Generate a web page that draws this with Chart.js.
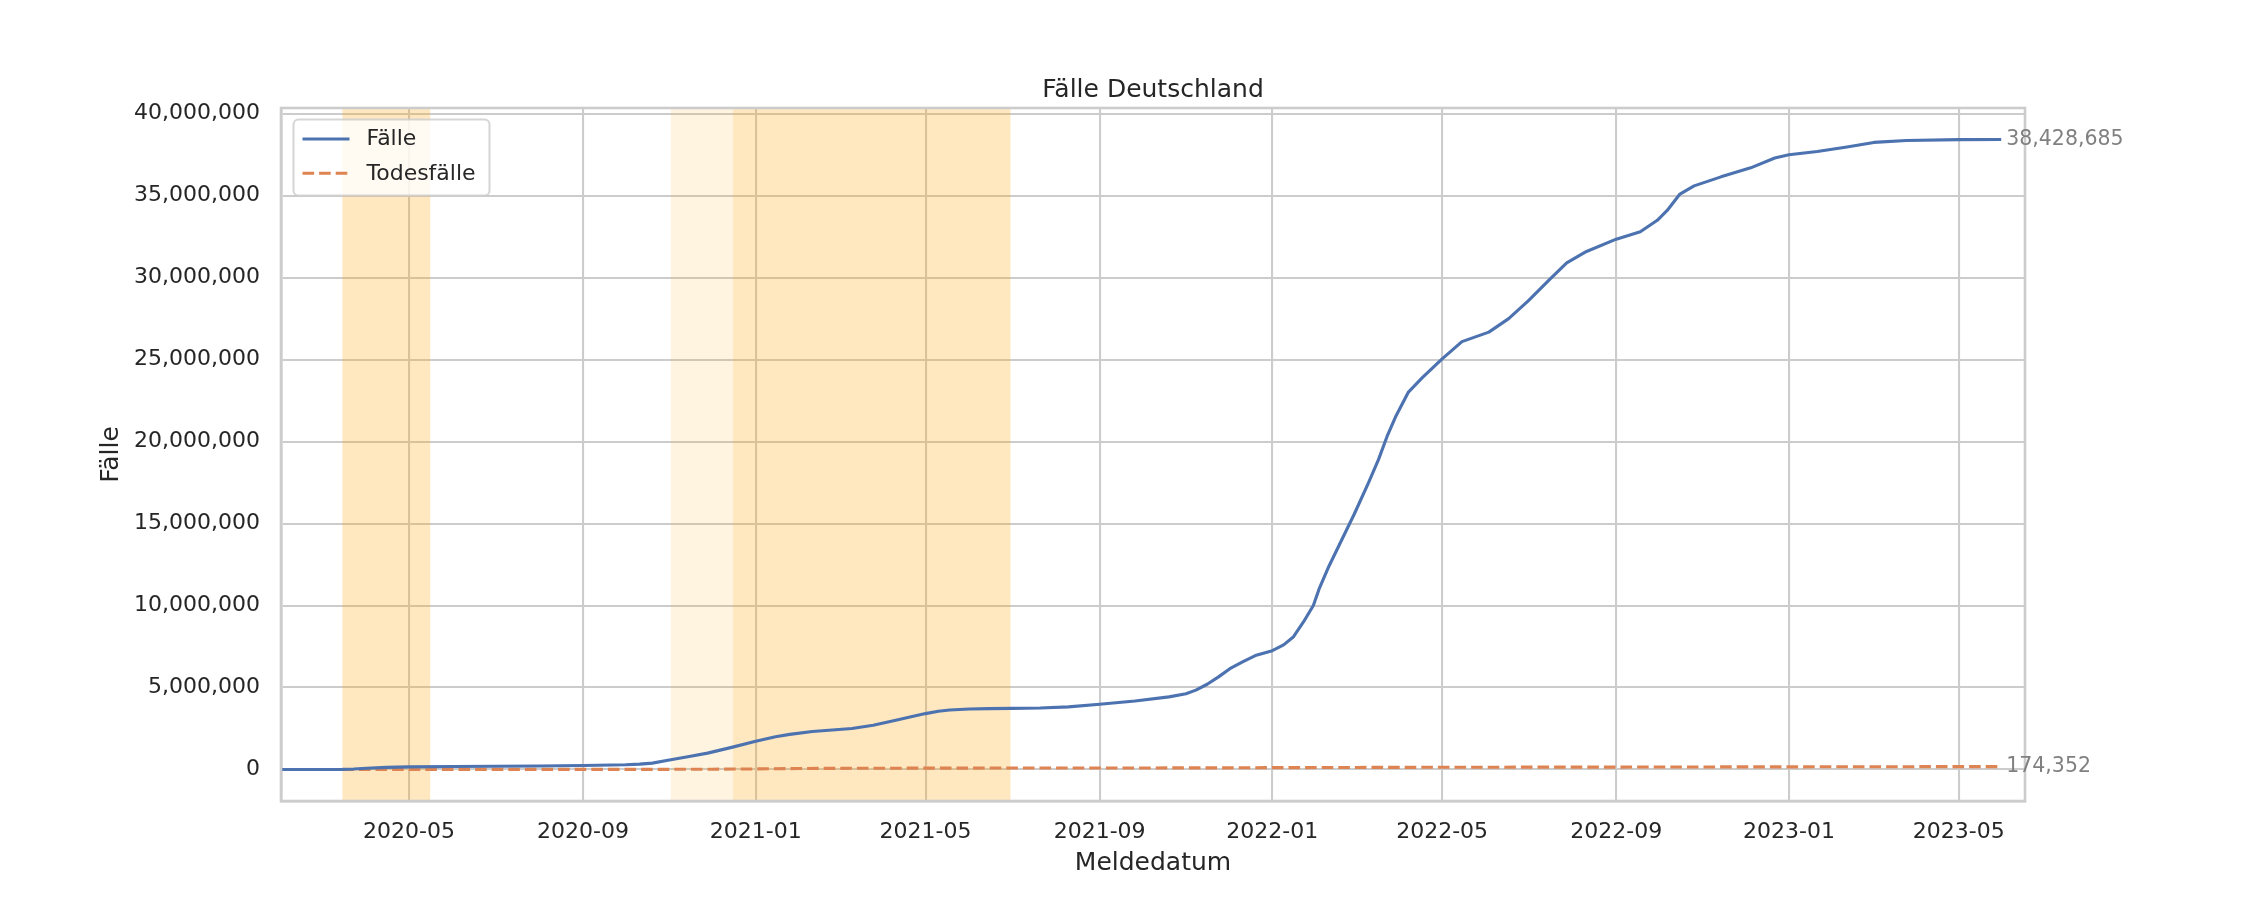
<!DOCTYPE html>
<html>
<head>
<meta charset="utf-8">
<script src="https://cdn.jsdelivr.net/npm/chart.js@4.4.1/dist/chart.umd.min.js"></script>
<style>
html,body{margin:0;padding:0;background:#ffffff;}
#wrap{width:2250px;height:900px;position:relative;}
</style>
</head>
<body>
<div id="wrap"><canvas id="c" width="2250" height="900"></canvas></div>
<script>
// ---------------- data ----------------
const chartTitle = 'Fälle Deutschland';
const xAxisTitle = 'Meldedatum';
const yAxisTitle = 'Fälle';
const seriesNames = ['Fälle', 'Todesfälle'];

const caseDates = ['2020-01-28','2020-03-01','2020-03-15','2020-03-23','2020-04-01','2020-04-15','2020-05-01','2020-06-01','2020-07-01','2020-08-01','2020-09-01','2020-10-01','2020-10-11','2020-10-20','2020-10-31','2020-11-15','2020-11-28','2020-12-15','2021-01-01','2021-01-15','2021-01-25','2021-02-10','2021-03-10','2021-03-25','2021-04-10','2021-04-20','2021-05-01','2021-05-10','2021-05-18','2021-06-01','2021-06-15','2021-07-01','2021-07-21','2021-08-10','2021-09-01','2021-09-26','2021-10-20','2021-11-01','2021-11-08','2021-11-16','2021-11-24','2021-12-02','2021-12-11','2021-12-20','2022-01-01','2022-01-09','2022-01-16','2022-01-23','2022-01-30','2022-02-03','2022-02-10','2022-02-19','2022-02-28','2022-03-10','2022-03-17','2022-03-23','2022-03-29','2022-04-07','2022-04-17','2022-05-01','2022-05-15','2022-06-03','2022-06-17','2022-07-01','2022-07-16','2022-07-28','2022-08-11','2022-09-01','2022-09-18','2022-09-30','2022-10-07','2022-10-16','2022-10-26','2022-11-14','2022-12-05','2022-12-22','2023-01-01','2023-01-21','2023-02-11','2023-03-02','2023-03-25','2023-05-01','2023-05-31'];
const caseValues = [0,130,6000,30000,75000,130000,163000,183000,195000,210000,245000,290000,330000,390000,560000,790000,1000000,1350000,1720000,2000000,2140000,2320000,2500000,2700000,3000000,3200000,3410000,3550000,3630000,3690000,3710000,3730000,3750000,3820000,3980000,4180000,4430000,4620000,4840000,5200000,5650000,6150000,6570000,6950000,7250000,7600000,8100000,9000000,10000000,11000000,12400000,14000000,15600000,17500000,18900000,20300000,21500000,23000000,23900000,25050000,26100000,26680000,27500000,28600000,29900000,30900000,31600000,32350000,32800000,33500000,34100000,35100000,35600000,36150000,36700000,37300000,37500000,37700000,37970000,38250000,38370000,38420000,38428685];

const deathDates = ['2020-01-28','2020-03-15','2020-04-15','2020-05-01','2020-07-01','2020-10-01','2020-11-01','2020-12-01','2021-01-01','2021-02-01','2021-03-01','2021-05-01','2021-07-01','2021-10-01','2021-12-01','2022-01-01','2022-03-01','2022-05-01','2022-09-01','2022-11-01','2023-01-01','2023-03-01','2023-05-31'];
const deathValues = [0,20,4000,6800,9000,9500,10700,18000,35000,60000,72000,83000,91000,94000,102000,113000,125000,137000,148000,155000,162000,170000,174352];

const xTickDates = ['2020-05-01','2020-09-01','2021-01-01','2021-05-01','2021-09-01','2022-01-01','2022-05-01','2022-09-01','2023-01-01','2023-05-01'];
const yTickValues = [0,5000000,10000000,15000000,20000000,25000000,30000000,35000000,40000000];
const xLimits = ['2020-01-31T14:24:00Z','2023-06-16T19:12:00Z'];
const yLimits = [-1921434, 40350119];

const bandStarts = ['2020-03-15','2020-11-02','2020-12-16'];
const bandEnds   = ['2020-05-16','2020-12-16','2021-06-30'];
const bandAlphas = [0.25, 0.12, 0.25];

// ---------------- helpers ----------------
const toMs = d => Date.parse(d.length === 10 ? d + 'T00:00:00Z' : d);
const fmtNum = v => String(Math.round(v)).replace(/\B(?=(\d{3})+(?!\d))/g, ',');
const fmtMonth = v => new Date(v).toISOString().slice(0, 7);

const TEXT = '#262626';
const GRID = '#cccccc';
const BLUE = '#4c72b0';
const ORANGE = '#dd8452';
const FONT = '"DejaVu Sans", sans-serif';

const caseData = caseDates.map((d, i) => ({x: toMs(d), y: caseValues[i]}));
const deathData = deathDates.map((d, i) => ({x: toMs(d), y: deathValues[i]}));

// ---------------- plugins ----------------
const bandsPlugin = {
  id: 'bands',
  beforeDatasetsDraw(chart) {
    const {ctx, chartArea: a, scales: {x}} = chart;
    ctx.save();
    ctx.beginPath(); ctx.rect(a.left, a.top, a.width, a.height); ctx.clip();
    bandStarts.forEach((s, i) => {
      const x0 = x.getPixelForValue(toMs(s));
      const x1 = x.getPixelForValue(toMs(bandEnds[i]));
      ctx.fillStyle = 'rgba(255,165,0,' + bandAlphas[i] + ')';
      ctx.fillRect(x0, a.top, x1 - x0, a.height);
    });
    ctx.restore();
  }
};

const framePlugin = {
  id: 'frame',
  afterDatasetsDraw(chart) {
    const {ctx, chartArea: a} = chart;
    ctx.save();
    ctx.strokeStyle = GRID;
    ctx.lineWidth = 2.6;
    ctx.strokeRect(a.left, a.top, a.width, a.height);
    ctx.restore();
  }
};

const overlayPlugin = {
  id: 'overlay',
  afterDraw(chart) {
    const {ctx, chartArea: a, scales: {x, y}} = chart;
    ctx.save();
    // title
    ctx.fillStyle = TEXT;
    ctx.font = '25px ' + FONT;
    ctx.textAlign = 'center';
    ctx.textBaseline = 'alphabetic';
    ctx.fillText(chartTitle, (a.left + a.right) / 2, 96.5);

    // end annotations
    ctx.font = '20.5px ' + FONT;
    ctx.fillStyle = '#808080';
    ctx.textAlign = 'left';
    ctx.textBaseline = 'middle';
    const lc = caseData[caseData.length - 1];
    ctx.fillText(fmtNum(lc.y), x.getPixelForValue(lc.x) + 5, y.getPixelForValue(lc.y));
    const ld = deathData[deathData.length - 1];
    ctx.fillText(fmtNum(ld.y), x.getPixelForValue(ld.x) + 5, y.getPixelForValue(ld.y));

    // legend
    const lx = a.left + 12.5, ly = a.top + 11.5, lw = 196, lh = 76;
    ctx.beginPath();
    ctx.roundRect(lx, ly, lw, lh, 5);
    ctx.fillStyle = 'rgba(255,255,255,0.8)';
    ctx.fill();
    ctx.strokeStyle = 'rgba(204,204,204,0.8)';
    ctx.lineWidth = 2.08;
    ctx.stroke();
    const colors = [BLUE, ORANGE];
    const dashes = [[], [11.6, 5]];
    const rowsY = [ly + 19.5, ly + 53.8];
    seriesNames.forEach((n, i) => {
      ctx.beginPath();
      ctx.setLineDash(dashes[i]);
      ctx.strokeStyle = colors[i];
      ctx.lineWidth = 3.125;
      ctx.moveTo(lx + 9, rowsY[i]);
      ctx.lineTo(lx + 56, rowsY[i]);
      ctx.stroke();
      ctx.setLineDash([]);
      ctx.fillStyle = TEXT;
      ctx.font = '22px ' + FONT;
      ctx.textAlign = 'left';
      ctx.textBaseline = 'middle';
      ctx.fillText(n, lx + 73, rowsY[i] + 0.5);
    });
    ctx.restore();
  }
};

// ---------------- chart ----------------
new Chart(document.getElementById('c'), {
  type: 'line',
  data: {
    datasets: [
      {label: seriesNames[0], data: caseData, borderColor: BLUE, backgroundColor: BLUE, borderWidth: 3.125, pointRadius: 0, tension: 0, fill: false, borderJoinStyle: 'round'},
      {label: seriesNames[1], data: deathData, borderColor: ORANGE, backgroundColor: ORANGE, borderWidth: 3.125, pointRadius: 0, tension: 0, fill: false, borderDash: [11.6, 5]}
    ]
  },
  options: {
    responsive: false,
    animation: false,
    devicePixelRatio: 1,
    parsing: true,
    layout: {padding: {top: 108, right: 225, bottom: 0, left: 0}},
    plugins: {legend: {display: false}, title: {display: false}, tooltip: {enabled: false}},
    scales: {
      x: {
        type: 'linear',
        min: toMs(xLimits[0]),
        max: toMs(xLimits[1]),
        afterBuildTicks: s => { s.ticks = xTickDates.map(d => ({value: toMs(d)})); },
        afterFit: s => { s.height = 99; },
        grid: {color: GRID, lineWidth: 2.08, drawTicks: false},
        border: {display: true, color: GRID, width: 2.6},
        ticks: {callback: v => fmtMonth(v), autoSkip: false, maxRotation: 0, minRotation: 0, padding: 18, color: TEXT, font: {family: FONT, size: 22}},
        title: {display: true, text: xAxisTitle, color: TEXT, font: {family: FONT, size: 25}, padding: {top: 0, bottom: 22}}
      },
      y: {
        type: 'linear',
        min: yLimits[0],
        max: yLimits[1],
        afterBuildTicks: s => { s.ticks = yTickValues.map(v => ({value: v})); },
        afterFit: s => { s.width = 281; },
        grid: {color: GRID, lineWidth: 2.08, drawTicks: false},
        border: {display: true, color: GRID, width: 2.6},
        ticks: {callback: v => fmtNum(v), padding: 21, color: TEXT, font: {family: FONT, size: 22}},
        title: {display: true, text: yAxisTitle, color: TEXT, font: {family: FONT, size: 25}, padding: {top: 96, bottom: 0}}
      }
    }
  },
  plugins: [bandsPlugin, framePlugin, overlayPlugin]
});
</script>
</body>
</html>
